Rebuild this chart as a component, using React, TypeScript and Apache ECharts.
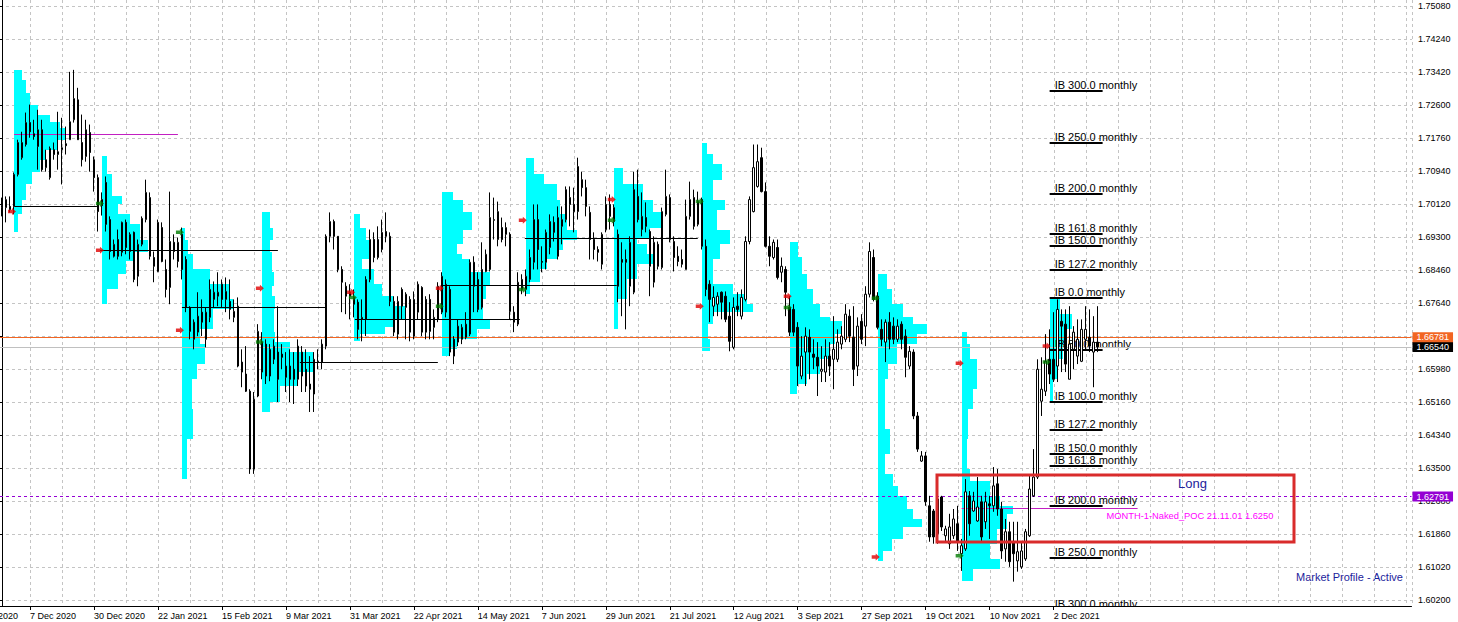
import React, { useEffect, useRef } from "react";
import * as echarts from "echarts";

// ---------------- axes / scale ----------------
const Y_TICK_LABELS = [
  "1.60200", "1.61020", "1.61860", "1.62680", "1.63500", "1.64340", "1.65160",
  "1.65980", "1.66800", "1.67640", "1.68460", "1.69300", "1.70120", "1.70940",
  "1.71760", "1.72600", "1.73420", "1.74240", "1.75080",
];
const Y_LABEL_MIN = 1.602;
const Y_LABEL_MAX = 1.7508;
const Y_VIEW_MIN = 1.6005;
const Y_VIEW_MAX = 1.7523;
const TOTAL_SLOTS = 353;
const LAST_BAR = 274;
const LABEL_FIRST = 7;
const LABEL_EVERY = 16;
const GRID_FIRST = 7;
const GRID_EVERY = 8;
const CLIPPED_X_LABEL = "13 Nov 2020";
const MONTH_NAMES = ["Jan", "Feb", "Mar", "Apr", "May", "Jun", "Jul", "Aug", "Sep", "Oct", "Nov", "Dec"];

// ---------------- daily candles [open, close, low, high] ----------------
const NOV_2020 = [
  [1.7008, 1.7003, 1.6981, 1.7028], [1.7003, 1.7023, 1.6966, 1.7031], [1.7006, 1.6998, 1.6991, 1.7031],
];
const DEC_2020 = [
  [1.7006, 1.7086, 1.6986, 1.7091], [1.7086, 1.7166, 1.7081, 1.7173], [1.7128, 1.7166, 1.7123, 1.7193],
  [1.7161, 1.7216, 1.7156, 1.7241], [1.7216, 1.7193, 1.7178, 1.7261], [1.7188, 1.7181, 1.7173, 1.7223],
  [1.7156, 1.7198, 1.7098, 1.7248], [1.7198, 1.7098, 1.7093, 1.7223], [1.7103, 1.7123, 1.7093, 1.7148],
  [1.7078, 1.7151, 1.7073, 1.7156], [1.7148, 1.7136, 1.7123, 1.7166], [1.7136, 1.7143, 1.7098, 1.7243],
  [1.7148, 1.7153, 1.7061, 1.7228], [1.7163, 1.7158, 1.7136, 1.7206], [1.7173, 1.7218, 1.7173, 1.7343],
  [1.7223, 1.7276, 1.7216, 1.7348], [1.7273, 1.7173, 1.7173, 1.7303], [1.7166, 1.7123, 1.7106, 1.7236],
  [1.7131, 1.7198, 1.7118, 1.7223], [1.7191, 1.7141, 1.7093, 1.7211], [1.7123, 1.7078, 1.7043, 1.7131],
  [1.7078, 1.6993, 1.6943, 1.7086],
];
const JAN_2021 = [
  [1.7023, 1.7008, 1.6983, 1.7041], [1.7066, 1.6961, 1.6943, 1.7081], [1.6973, 1.6893, 1.6873, 1.6981],
  [1.6881, 1.6911, 1.6878, 1.6923], [1.6923, 1.6881, 1.6873, 1.6948], [1.6891, 1.6966, 1.6881, 1.6968],
  [1.6966, 1.6903, 1.6886, 1.6973], [1.6893, 1.6936, 1.6873, 1.6941], [1.6941, 1.6823, 1.6816, 1.6943],
  [1.6831, 1.6911, 1.6806, 1.6923], [1.6911, 1.6976, 1.6906, 1.6981], [1.6973, 1.7041, 1.6966, 1.7073],
  [1.7028, 1.6881, 1.6873, 1.7041], [1.6878, 1.6856, 1.6816, 1.6893], [1.6843, 1.6966, 1.6841, 1.6973],
  [1.6953, 1.6868, 1.6866, 1.6966], [1.6848, 1.6798, 1.6778, 1.6873], [1.6803, 1.6918, 1.6761, 1.7043],
  [1.6916, 1.6893, 1.6873, 1.6936], [1.6868, 1.6916, 1.6853, 1.6928],
];
const FEB_2021 = [
  [1.6936, 1.6848, 1.6823, 1.6953], [1.6873, 1.6753, 1.6741, 1.6881], [1.6753, 1.6693, 1.6673, 1.6756],
  [1.6673, 1.6716, 1.6648, 1.6723], [1.6691, 1.6731, 1.6681, 1.6791], [1.6741, 1.6716, 1.6681, 1.6773],
  [1.6673, 1.6741, 1.6653, 1.6753], [1.6728, 1.6798, 1.6716, 1.6823], [1.6773, 1.6791, 1.6753, 1.6818],
  [1.6781, 1.6791, 1.6756, 1.6841], [1.6811, 1.6773, 1.6753, 1.6823], [1.6773, 1.6793, 1.6741, 1.6828],
  [1.6768, 1.6748, 1.6723, 1.6823], [1.6728, 1.6743, 1.6716, 1.6773], [1.6756, 1.6606, 1.6603, 1.6778],
  [1.6616, 1.6591, 1.6553, 1.6648], [1.6586, 1.6543, 1.6541, 1.6656], [1.6543, 1.6348, 1.6336, 1.6548],
  [1.6348, 1.6523, 1.6336, 1.6541], [1.6531, 1.6693, 1.6528, 1.6711],
];
const MAR_2021 = [
  [1.6666, 1.6591, 1.6573, 1.6691], [1.6661, 1.6581, 1.6561, 1.6673], [1.6581, 1.6648, 1.6568, 1.6661],
  [1.6623, 1.6656, 1.6611, 1.6673], [1.6641, 1.6573, 1.6516, 1.6756], [1.6636, 1.6628, 1.6598, 1.6661],
  [1.6606, 1.6578, 1.6541, 1.6641], [1.6606, 1.6573, 1.6516, 1.6648], [1.6598, 1.6573, 1.6511, 1.6641],
  [1.6573, 1.6656, 1.6556, 1.6673], [1.6641, 1.6581, 1.6541, 1.6656], [1.6598, 1.6556, 1.6541, 1.6648],
  [1.6561, 1.6548, 1.6491, 1.6631], [1.6536, 1.6623, 1.6491, 1.6641], [1.6616, 1.6618, 1.6598, 1.6648],
  [1.6616, 1.6661, 1.6598, 1.6673], [1.6656, 1.6931, 1.6648, 1.6936], [1.6931, 1.6968, 1.6916, 1.6991],
  [1.6968, 1.6931, 1.6898, 1.6973], [1.6931, 1.6848, 1.6841, 1.6931], [1.6848, 1.6816, 1.6741, 1.6856],
  [1.6806, 1.6781, 1.6736, 1.6816], [1.6781, 1.6791, 1.6723, 1.6811],
];
const APR_2021 = [
  [1.6778, 1.6761, 1.6728, 1.6798], [1.6766, 1.6698, 1.6673, 1.6773], [1.6723, 1.6728, 1.6668, 1.6773],
  [1.6723, 1.6823, 1.6681, 1.6831], [1.6823, 1.6923, 1.6816, 1.6948], [1.6923, 1.6878, 1.6866, 1.6941],
  [1.6878, 1.6923, 1.6873, 1.6956], [1.6898, 1.6941, 1.6891, 1.6973], [1.6943, 1.6931, 1.6916, 1.6991],
  [1.6931, 1.6768, 1.6756, 1.6941], [1.6768, 1.6691, 1.6681, 1.6781], [1.6686, 1.6768, 1.6673, 1.6781],
  [1.6798, 1.6756, 1.6723, 1.6803], [1.6753, 1.6786, 1.6673, 1.6791], [1.6773, 1.6691, 1.6668, 1.6781],
  [1.6681, 1.6773, 1.6673, 1.6793], [1.6741, 1.6811, 1.6723, 1.6818], [1.6803, 1.6691, 1.6681, 1.6806],
  [1.6773, 1.6691, 1.6673, 1.6781], [1.6773, 1.6693, 1.6673, 1.6786], [1.6703, 1.6728, 1.6673, 1.6748],
  [1.6723, 1.6806, 1.6716, 1.6816],
];
const MAY_2021 = [
  [1.6741, 1.6831, 1.6736, 1.6841], [1.6741, 1.6811, 1.6728, 1.6823], [1.6798, 1.6641, 1.6631, 1.6806],
  [1.6673, 1.6631, 1.6611, 1.6681], [1.6666, 1.6706, 1.6656, 1.6723], [1.6673, 1.6703, 1.6661, 1.6711],
  [1.6678, 1.6711, 1.6673, 1.6741], [1.6686, 1.6866, 1.6681, 1.6873], [1.6866, 1.6806, 1.6741, 1.6881],
  [1.6823, 1.6748, 1.6741, 1.6841], [1.6753, 1.6848, 1.6748, 1.6916], [1.6843, 1.6886, 1.6841, 1.6898],
  [1.6848, 1.6978, 1.6843, 1.7041], [1.6971, 1.6973, 1.6923, 1.7028], [1.6923, 1.6993, 1.6906, 1.7018],
  [1.6953, 1.6923, 1.6916, 1.6978], [1.6936, 1.6953, 1.6906, 1.6966], [1.6936, 1.6743, 1.6723, 1.6941],
  [1.6741, 1.6716, 1.6691, 1.6756], [1.6711, 1.6816, 1.6706, 1.6841], [1.6798, 1.6823, 1.6786, 1.6836],
];
const JUN_2021 = [
  [1.6798, 1.6831, 1.6781, 1.6848], [1.6823, 1.6878, 1.6816, 1.6898], [1.6866, 1.6973, 1.6848, 1.7011],
  [1.6973, 1.6898, 1.6848, 1.7011], [1.6868, 1.6866, 1.6841, 1.6906], [1.6866, 1.6941, 1.6848, 1.6948],
  [1.6903, 1.6968, 1.6886, 1.6986], [1.6966, 1.6941, 1.6918, 1.6981], [1.6881, 1.6978, 1.6873, 1.7006],
  [1.6956, 1.6973, 1.6911, 1.7006], [1.6973, 1.7048, 1.6966, 1.7056], [1.7028, 1.7011, 1.6956, 1.7056],
  [1.7011, 1.6993, 1.6941, 1.7053], [1.6993, 1.7106, 1.6973, 1.7128], [1.7073, 1.7053, 1.7031, 1.7093],
  [1.7053, 1.7006, 1.6981, 1.7073], [1.6991, 1.6923, 1.6873, 1.7006], [1.6923, 1.6898, 1.6873, 1.6941],
  [1.6898, 1.6891, 1.6868, 1.6906], [1.6861, 1.6936, 1.6848, 1.6941], [1.6948, 1.7011, 1.6941, 1.7031],
  [1.7011, 1.6981, 1.6948, 1.7036],
];
const JUL_2021 = [
  [1.6968, 1.7003, 1.6956, 1.7011], [1.6936, 1.6806, 1.6766, 1.6948], [1.6873, 1.6866, 1.6731, 1.6916],
  [1.6873, 1.6866, 1.6698, 1.6898], [1.6806, 1.6916, 1.6756, 1.6931], [1.6791, 1.7048, 1.6786, 1.7093],
  [1.7031, 1.6973, 1.6966, 1.7098], [1.6948, 1.6981, 1.6931, 1.7041], [1.6978, 1.6956, 1.6941, 1.7016],
  [1.6943, 1.6856, 1.6781, 1.6948], [1.6816, 1.6916, 1.6803, 1.6931], [1.6911, 1.6856, 1.6848, 1.6918],
  [1.6853, 1.6993, 1.6848, 1.7003], [1.6986, 1.7031, 1.6981, 1.7098], [1.7028, 1.6923, 1.6916, 1.7036],
  [1.6918, 1.6878, 1.6843, 1.6931], [1.6881, 1.6868, 1.6856, 1.6906], [1.6873, 1.6861, 1.6853, 1.6898],
  [1.6848, 1.6981, 1.6848, 1.7023], [1.6981, 1.7023, 1.6973, 1.7068], [1.7028, 1.6956, 1.6948, 1.7048],
  [1.6961, 1.7018, 1.6956, 1.7043],
];
const AUG_2021 = [
  [1.7023, 1.6906, 1.6898, 1.7028], [1.6906, 1.6798, 1.6781, 1.6923], [1.6811, 1.6773, 1.6716, 1.6821],
  [1.6756, 1.6778, 1.6731, 1.6806], [1.6761, 1.6781, 1.6731, 1.6791], [1.6791, 1.6766, 1.6723, 1.6793],
  [1.6781, 1.6723, 1.6716, 1.6793], [1.6731, 1.6668, 1.6643, 1.6766], [1.6653, 1.6753, 1.6648, 1.6778],
  [1.6756, 1.6748, 1.6731, 1.6791], [1.6731, 1.6778, 1.6723, 1.6798], [1.6773, 1.6918, 1.6768, 1.6931],
  [1.6918, 1.7023, 1.6911, 1.7031], [1.6993, 1.7103, 1.6991, 1.7161], [1.7056, 1.7118, 1.7053, 1.7161],
  [1.7128, 1.7043, 1.7041, 1.7153], [1.7043, 1.6906, 1.6903, 1.7066], [1.6906, 1.6881, 1.6856, 1.6931],
  [1.6878, 1.6916, 1.6873, 1.6923], [1.6903, 1.6828, 1.6823, 1.6923], [1.6841, 1.6856, 1.6816, 1.6878],
  [1.6848, 1.6791, 1.6731, 1.6856],
];
const SEP_2021 = [
  [1.6753, 1.6691, 1.6681, 1.6781], [1.6748, 1.6691, 1.6681, 1.6761], [1.6703, 1.6606, 1.6556, 1.6716],
  [1.6581, 1.6631, 1.6573, 1.6681], [1.6641, 1.6681, 1.6556, 1.6703], [1.6678, 1.6641, 1.6573, 1.6698],
  [1.6636, 1.6628, 1.6598, 1.6673], [1.6628, 1.6606, 1.6531, 1.6666], [1.6593, 1.6598, 1.6566, 1.6656],
  [1.6591, 1.6631, 1.6566, 1.6673], [1.6631, 1.6606, 1.6581, 1.6666], [1.6623, 1.6648, 1.6548, 1.6731],
  [1.6623, 1.6666, 1.6616, 1.6698], [1.6661, 1.6681, 1.6648, 1.6706], [1.6673, 1.6736, 1.6666, 1.6761],
  [1.6731, 1.6681, 1.6666, 1.6748], [1.6678, 1.6598, 1.6556, 1.6756], [1.6606, 1.6706, 1.6581, 1.6728],
  [1.6718, 1.6673, 1.6661, 1.6736], [1.6706, 1.6786, 1.6656, 1.6806], [1.6786, 1.6893, 1.6778, 1.6916],
  [1.6878, 1.6773, 1.6768, 1.6898],
];
const OCT_2021 = [
  [1.6781, 1.6703, 1.6698, 1.6791], [1.6698, 1.6673, 1.6656, 1.6723], [1.6666, 1.6716, 1.6616, 1.6723],
  [1.6716, 1.6673, 1.6648, 1.6741], [1.6706, 1.6673, 1.6661, 1.6728], [1.6673, 1.6706, 1.6666, 1.6723],
  [1.6711, 1.6673, 1.6648, 1.6718], [1.6681, 1.6628, 1.6578, 1.6698], [1.6606, 1.6643, 1.6598, 1.6656],
  [1.6641, 1.6481, 1.6473, 1.6648], [1.6481, 1.6398, 1.6391, 1.6491], [1.6368, 1.6381, 1.6366, 1.6393],
  [1.6381, 1.6266, 1.6256, 1.6391], [1.6256, 1.6178, 1.6166, 1.6281], [1.6243, 1.6178, 1.6161, 1.6248],
  [1.6186, 1.6273, 1.6161, 1.6286], [1.6278, 1.6203, 1.6193, 1.6281], [1.6181, 1.6198, 1.6168, 1.6206],
  [1.6161, 1.6203, 1.6148, 1.6236], [1.6181, 1.6223, 1.6173, 1.6248], [1.6211, 1.6166, 1.6143, 1.6256],
];
const NOV_2021 = [
  [1.6136, 1.6156, 1.6093, 1.6173], [1.6148, 1.6291, 1.6143, 1.6323], [1.6281, 1.6211, 1.6181, 1.6293],
  [1.6243, 1.6268, 1.6241, 1.6291], [1.6218, 1.6253, 1.6216, 1.6328], [1.6266, 1.6178, 1.6168, 1.6281],
  [1.6216, 1.6266, 1.6198, 1.6291], [1.6261, 1.6256, 1.6173, 1.6281], [1.6256, 1.6306, 1.6241, 1.6353],
  [1.6311, 1.6248, 1.6231, 1.6348], [1.6248, 1.6143, 1.6123, 1.6266], [1.6148, 1.6191, 1.6116, 1.6223],
  [1.6191, 1.6116, 1.6103, 1.6216], [1.6166, 1.6136, 1.6066, 1.6216], [1.6118, 1.6141, 1.6091, 1.6216],
  [1.6103, 1.6143, 1.6098, 1.6166], [1.6123, 1.6191, 1.6118, 1.6198], [1.6181, 1.6298, 1.6178, 1.6331],
  [1.6281, 1.6328, 1.6278, 1.6398], [1.6328, 1.6598, 1.6323, 1.6623], [1.6518, 1.6548, 1.6481, 1.6628],
  [1.6543, 1.6618, 1.6531, 1.6686],
];
const DEC_2021 = [
  [1.6623, 1.6586, 1.6561, 1.6698], [1.6623, 1.6573, 1.6566, 1.6741], [1.6606, 1.6748, 1.6566, 1.6773],
  [1.6718, 1.6706, 1.6591, 1.6748], [1.6711, 1.6611, 1.6591, 1.6748], [1.6573, 1.6661, 1.6573, 1.6756],
  [1.6648, 1.6691, 1.6598, 1.6706], [1.6631, 1.6673, 1.6611, 1.6723], [1.6618, 1.6698, 1.6616, 1.6723],
  [1.6673, 1.6698, 1.6648, 1.6756], [1.6678, 1.6656, 1.6641, 1.6748], [1.6641, 1.6666, 1.6553, 1.6731],
  [1.6666, 1.6654, 1.6641, 1.6756],
];

// ---------------- monthly market profiles [priceTop, priceBottom, TPO count] ----------------
const PROFILE_STARTS = [3, 25, 45, 65, 88, 110, 131, 153, 175, 197, 219, 240, 262];
const MP_DEC_2020 = [
  [1.7348, 1.7323, 2], [1.7323, 1.7291, 3], [1.7291, 1.7261, 4], [1.7261, 1.7236, 6], [1.7236, 1.7218, 9],
  [1.7218, 1.7203, 11.5], [1.7203, 1.7173, 13], [1.7173, 1.7148, 11], [1.7148, 1.7123, 8], [1.7123, 1.7093, 6.5],
  [1.7093, 1.7061, 4.5], [1.7061, 1.7023, 3], [1.7023, 1.6986, 2], [1.6986, 1.6943, 1],
];
const MP_JAN_2021 = [
  [1.7131, 1.7086, 1.3], [1.7086, 1.7031, 2.5], [1.7031, 1.7011, 5], [1.7011, 1.6986, 4], [1.6986, 1.6961, 7],
  [1.6961, 1.6923, 9.5], [1.6923, 1.6893, 11.5], [1.6893, 1.6868, 8], [1.6868, 1.6836, 6], [1.6836, 1.6798, 4],
  [1.6798, 1.6761, 1.3],
];
const MP_FEB_2021 = [
  [1.6953, 1.6923, 0.8], [1.6923, 1.6886, 1.5], [1.6886, 1.6848, 2.8], [1.6848, 1.6811, 7], [1.6811, 1.6773, 12],
  [1.6773, 1.6748, 12.8], [1.6748, 1.6698, 7.8], [1.6698, 1.6661, 4.5], [1.6661, 1.6611, 5.8], [1.6611, 1.6573, 3.8],
  [1.6573, 1.6498, 2.5], [1.6498, 1.6423, 2.8], [1.6423, 1.6323, 1.3],
];
const MP_MAR_2021 = [
  [1.6991, 1.6953, 2], [1.6953, 1.6923, 2.8], [1.6923, 1.6891, 2], [1.6891, 1.6841, 2.5], [1.6841, 1.6806, 3],
  [1.6806, 1.6781, 2.5], [1.6781, 1.6748, 3.3], [1.6748, 1.6691, 3], [1.6691, 1.6666, 3.3], [1.6666, 1.6641, 7],
  [1.6641, 1.6591, 12.8], [1.6591, 1.6556, 8.8], [1.6556, 1.6516, 4.5], [1.6516, 1.6491, 2],
];
const MP_APR_2021 = [
  [1.6986, 1.6953, 1.5], [1.6953, 1.6923, 3], [1.6923, 1.6873, 4], [1.6873, 1.6848, 2], [1.6848, 1.6811, 5],
  [1.6811, 1.6781, 7], [1.6781, 1.6756, 9.8], [1.6756, 1.6723, 12.8], [1.6723, 1.6703, 9.8], [1.6703, 1.6686, 7.8],
  [1.6686, 1.6668, 1.5],
];
const MP_MAY_2021 = [
  [1.7041, 1.7023, 2.8], [1.7023, 1.6991, 5.3], [1.6991, 1.6948, 7.5], [1.6948, 1.6911, 5.3], [1.6911, 1.6886, 3.8],
  [1.6886, 1.6873, 5], [1.6873, 1.6841, 7], [1.6841, 1.6806, 12], [1.6806, 1.6773, 11], [1.6773, 1.6723, 10.3],
  [1.6723, 1.6698, 12], [1.6698, 1.6673, 8.8], [1.6673, 1.6648, 3.8], [1.6648, 1.6631, 1.8],
];
const MP_JUN_2021 = [
  [1.7128, 1.7086, 2], [1.7086, 1.7061, 4.5], [1.7061, 1.7023, 7.8], [1.7023, 1.6986, 8.5], [1.6986, 1.6948, 10.3],
  [1.6948, 1.6923, 12.8], [1.6923, 1.6898, 9.3], [1.6898, 1.6873, 8], [1.6873, 1.6848, 5.3], [1.6848, 1.6816, 3.5],
  [1.6816, 1.6786, 1],
];
const MP_JUL_2021 = [
  [1.7103, 1.7061, 2.3], [1.7061, 1.7023, 7.3], [1.7023, 1.6991, 9.8], [1.6991, 1.6953, 12.3], [1.6953, 1.6928, 9],
  [1.6928, 1.6911, 5.8], [1.6911, 1.6886, 8.3], [1.6886, 1.6861, 9.8], [1.6861, 1.6823, 5.8], [1.6823, 1.6773, 3.3],
  [1.6773, 1.6698, 1],
];
const MP_AUG_2021 = [
  [1.7166, 1.7136, 1.3], [1.7136, 1.7111, 2.8], [1.7111, 1.7073, 5], [1.7073, 1.7023, 2.8], [1.7023, 1.6998, 5.8],
  [1.6998, 1.6948, 3.8], [1.6948, 1.6911, 7], [1.6911, 1.6873, 4.5], [1.6873, 1.6811, 2.8], [1.6811, 1.6786, 7.8],
  [1.6786, 1.6761, 11.3], [1.6761, 1.6741, 12.8], [1.6741, 1.6711, 2.8], [1.6711, 1.6673, 1.5], [1.6673, 1.6643, 2],
];
const MP_SEP_2021 = [
  [1.6916, 1.6878, 2], [1.6878, 1.6836, 3], [1.6836, 1.6798, 4.3], [1.6798, 1.6761, 5.8], [1.6761, 1.6728, 7.5],
  [1.6728, 1.6718, 10], [1.6718, 1.6686, 13], [1.6686, 1.6661, 11.3], [1.6661, 1.6623, 10], [1.6623, 1.6586, 7.5],
  [1.6586, 1.6561, 4.3], [1.6561, 1.6536, 1.8],
];
const MP_OCT_2021 = [
  [1.6836, 1.6798, 2.3], [1.6798, 1.6761, 3.5], [1.6761, 1.6728, 6.3], [1.6728, 1.6711, 8.8], [1.6711, 1.6686, 12.3],
  [1.6686, 1.6661, 9.8], [1.6661, 1.6611, 4.8], [1.6611, 1.6573, 2.5], [1.6573, 1.6448, 1.8], [1.6448, 1.6386, 3],
  [1.6386, 1.6336, 1.8], [1.6336, 1.6306, 3.8], [1.6306, 1.6281, 5], [1.6281, 1.6248, 7.3], [1.6248, 1.6223, 8.8],
  [1.6223, 1.6203, 11], [1.6203, 1.6173, 6.3], [1.6173, 1.6143, 3.5], [1.6143, 1.6118, 1.3],
];
const MP_NOV_2021 = [
  [1.6691, 1.6661, 1.3], [1.6661, 1.6623, 2], [1.6623, 1.6548, 3.8], [1.6548, 1.6498, 2.8], [1.6498, 1.6423, 1.5],
  [1.6423, 1.6348, 1.3], [1.6348, 1.6318, 2], [1.6318, 1.6281, 7], [1.6281, 1.6256, 9.5], [1.6256, 1.6236, 12.8],
  [1.6236, 1.6198, 11.3], [1.6198, 1.6161, 8.8], [1.6161, 1.6123, 7], [1.6123, 1.6098, 9.5], [1.6098, 1.6068, 2.8],
];
const MP_DEC_2021 = [
  [1.6773, 1.6736, 2.5], [1.6736, 1.6698, 5.5], [1.6698, 1.6661, 4.3], [1.6661, 1.6623, 3.3], [1.6623, 1.6573, 2],
  [1.6573, 1.6516, 0.8],
];

// ---------------- POC lines [fromBar, toBar, price] ----------------
const POC_LINES = [
  [3, 23.75, 1.7008], [24.5, 69, 1.6896], [45, 81.25, 1.6753], [74.5, 109, 1.6616],
  [88.25, 129.5, 1.6723], [110, 153.75, 1.6808], [130.75, 174, 1.6928],
];
const NAKED_POC_LINES = [[3, 44, 1.7188], [240, 284, 1.625]];
const NAKED_POC_LABEL = ["MONTH-1-Naked_POC 21.11.01 1.6250", 276.25, 1.625];

// ---------------- month markers [bar, price] ----------------
const RED_MARKS = [
  [2.5, 1.6993], [24.5, 1.6896], [44.5, 1.6696], [64.5, 1.6801], [87.3, 1.6791], [109.5, 1.6801],
  [130.25, 1.6971], [152.5, 1.7023], [174.5, 1.6756], [196.5, 1.6781], [218.5, 1.6128], [239.5, 1.6613],
  [261.25, 1.6656],
];
const GREEN_MARKS = [
  [24.5, 1.7013], [44.5, 1.6941], [64.5, 1.6666], [87.75, 1.6778], [109.5, 1.6756], [130.25, 1.6798],
  [152.5, 1.6971], [174.5, 1.7018], [196.5, 1.6753], [218.5, 1.6776], [239.5, 1.6131], [261.25, 1.6616],
];

// ---------------- initial balance levels ----------------
const IB_HIGH = 1.6776;
const IB_LOW = 1.6516;
const IB_UP = [300, 250, 200, 161.8, 150, 127.2];
const IB_DOWN = [0, 50, 100, 127.2, 150, 161.8, 200, 250, 300];
const IB_FROM = 262;
const IB_TO = 275.25;

// ---------------- price lines & zone ----------------
const ORANGE_LEVEL = 1.66781;
const BID_LEVEL = 1.6654;
const PURPLE_LEVEL = 1.62791;
const LONG_ZONE = [233.75, 323, 1.6333, 1.6165];
const LONG_LABEL = ["Long", 297.75, 1.6311];
const STATUS_TEXT = "Market Profile - Active";

const FONT = '"Liberation Sans", Arial, sans-serif';
const ARROW = "path://M0,2 L4,2 L4,0 L8,4 L4,8 L4,6 L0,6 Z";

function buildDates(): string[] {
  const out: string[] = [];
  let t = Date.UTC(2020, 10, 26);
  while (out.length < TOTAL_SLOTS) {
    const d = new Date(t);
    const wd = d.getUTCDay();
    const m = d.getUTCMonth();
    const dd = d.getUTCDate();
    const holiday = (m === 11 && dd === 25) || (m === 0 && dd === 1);
    if (wd !== 0 && wd !== 6 && !holiday) {
      out.push(`${dd} ${MONTH_NAMES[m]} ${d.getUTCFullYear()}`);
    }
    t += 86400000;
  }
  return out;
}

function buildOption(): any {
  const candles = [
    ...NOV_2020, ...DEC_2020, ...JAN_2021, ...FEB_2021, ...MAR_2021, ...APR_2021, ...MAY_2021,
    ...JUN_2021, ...JUL_2021, ...AUG_2021, ...SEP_2021, ...OCT_2021, ...NOV_2021, ...DEC_2021,
  ];
  const dates = buildDates();
  const profiles = [
    MP_DEC_2020, MP_JAN_2021, MP_FEB_2021, MP_MAR_2021, MP_APR_2021, MP_MAY_2021, MP_JUN_2021,
    MP_JUL_2021, MP_AUG_2021, MP_SEP_2021, MP_OCT_2021, MP_NOV_2021, MP_DEC_2021,
  ];
  const profileRows: number[][] = [];
  profiles.forEach((p, k) => p.forEach((r) => profileRows.push([PROFILE_STARTS[k], r[0], r[1], r[2]])));

  const ibRange = IB_HIGH - IB_LOW;
  const ibTexts: string[] = [];
  const ibRows: number[][] = [];
  IB_UP.forEach((p) => { ibTexts.push(`IB ${p.toFixed(1)} monthly`); ibRows.push([p, IB_LOW + (p / 100) * ibRange]); });
  IB_DOWN.forEach((p) => { ibTexts.push(`IB ${p.toFixed(1)} monthly`); ibRows.push([p, IB_HIGH - (p / 100) * ibRange]); });

  const yStep = (Y_LABEL_MAX - Y_LABEL_MIN) / (Y_TICK_LABELS.length - 1);
  const showLabel = (i: number) => i >= LABEL_FIRST && i <= LAST_BAR && (i - LABEL_FIRST) % LABEL_EVERY === 0;

  const segRender = (color: string, width: number) => (params: any, api: any) => {
    const a = api.coord([api.value(0), api.value(2)]);
    const b = api.coord([api.value(1), api.value(2)]);
    const y = Math.round(a[1]) + (width % 2 ? 0.5 : 0);
    return { type: "line", shape: { x1: a[0], y1: y, x2: b[0], y2: y }, style: { stroke: color, lineWidth: width } };
  };

  const priceLabel = (bg: string) => ({
    show: true, position: "end", distance: 1, backgroundColor: bg, color: "#ffffff",
    fontSize: 9, fontFamily: FONT, lineHeight: 10, padding: [0, 4, 0, 4],
  });

  return {
    animation: false,
    backgroundColor: "#ffffff",
    textStyle: { fontFamily: FONT },
    grid: [
      { left: -0.5, top: 0, width: 1412, height: 606 },
      { left: 0, top: 6, width: 1412, height: 594 },
      { left: 30, top: 0, width: 1382, height: 606 },
    ],
    xAxis: [
      {
        type: "category", gridIndex: 0, data: dates, boundaryGap: true,
        axisLine: { show: true, lineStyle: { color: "#000000", width: 1 } },
        axisTick: { show: true, alignWithLabel: true, length: 4, interval: (i: number) => showLabel(i), lineStyle: { color: "#000000" } },
        axisLabel: {
          show: true, interval: (i: number) => showLabel(i), align: "left", margin: 5, fontSize: 9,
          color: "#000000", formatter: (v: string, i: number) => (showLabel(i) ? v : ""),
        },
        splitLine: { show: false },
      },
      { type: "value", gridIndex: 0, min: -0.5, max: TOTAL_SLOTS - 0.5, show: false },
      { type: "value", gridIndex: 1, min: 0, max: 1, show: false },
      {
        type: "value", gridIndex: 2, min: GRID_FIRST, max: GRID_FIRST + 1382 / 4, interval: GRID_EVERY,
        axisLine: { show: false }, axisTick: { show: false }, axisLabel: { show: false },
        splitLine: { show: true, lineStyle: { color: "#c4c4c4", width: 1, type: [3, 3] } },
      },
    ],
    yAxis: [
      {
        type: "value", gridIndex: 0, min: Y_VIEW_MIN, max: Y_VIEW_MAX, position: "right",
        axisLine: { show: true, lineStyle: { color: "#000000", width: 1 } },
        axisTick: { show: false }, axisLabel: { show: false }, splitLine: { show: false },
      },
      {
        type: "value", gridIndex: 1, min: Y_LABEL_MIN, max: Y_LABEL_MAX, interval: yStep, position: "right",
        axisLine: { show: false },
        axisTick: { show: true, length: 3, lineStyle: { color: "#000000" } },
        axisLabel: {
          show: true, margin: 6, fontSize: 9, color: "#000000",
          formatter: (v: number) => Y_TICK_LABELS[Math.round((v - Y_LABEL_MIN) / yStep)] || "",
        },
        splitLine: { show: true, lineStyle: { color: "#c4c4c4", width: 1, type: [3, 3] } },
      },
      { type: "value", gridIndex: 2, min: 0, max: 1, show: false },
    ],
    graphic: [
      { type: "text", x: -33, y: 611, style: { text: CLIPPED_X_LABEL, fill: "#000000", font: `9px ${FONT}` } },
      { type: "text", left: 1296, top: 571, style: { text: STATUS_TEXT, fill: "#1c1c9c", font: `11px ${FONT}` } },
    ],
    series: [
      {
        name: "profiles", type: "custom", xAxisIndex: 1, yAxisIndex: 0, z: 1, clip: true, silent: true,
        data: profileRows,
        renderItem: (params: any, api: any) => {
          const a = api.coord([api.value(0), api.value(1)]);
          const b = api.coord([api.value(0) + api.value(3), api.value(2)]);
          const x = Math.round(a[0]);
          const y = Math.round(a[1]);
          return {
            type: "rect",
            shape: { x, y, width: Math.max(1, Math.round(b[0]) - x), height: Math.round(b[1]) - y },
            style: { fill: "#00ffff" },
          };
        },
      },
      {
        name: "poc", type: "custom", xAxisIndex: 1, yAxisIndex: 0, z: 2, clip: true, silent: true,
        data: POC_LINES, renderItem: segRender("#000000", 1),
      },
      {
        name: "nakedPoc", type: "custom", xAxisIndex: 1, yAxisIndex: 0, z: 2, clip: true, silent: true,
        data: NAKED_POC_LINES, renderItem: segRender("#c21fc2", 1),
      },
      {
        name: "ib", type: "custom", xAxisIndex: 1, yAxisIndex: 0, z: 3, clip: true, silent: true,
        data: ibRows,
        renderItem: (params: any, api: any) => {
          const a = api.coord([IB_FROM, api.value(1)]);
          const b = api.coord([IB_TO, api.value(1)]);
          const y = Math.round(a[1]);
          const cs = params.coordSys;
          return {
            type: "group",
            clipPath: { type: "rect", shape: { x: cs.x, y: cs.y, width: cs.width, height: cs.height } },
            children: [
              { type: "line", shape: { x1: a[0], y1: y, x2: b[0], y2: y }, style: { stroke: "#000000", lineWidth: 2 } },
              {
                type: "text", x: a[0] + 5, y: y - 6,
                style: { text: ibTexts[params.dataIndex], fill: "#000000", font: `11px ${FONT}`, align: "left", verticalAlign: "middle" },
              },
            ],
          };
        },
      },
      {
        name: "EURGBP", type: "candlestick", xAxisIndex: 0, yAxisIndex: 0, z: 5, barWidth: 2,
        data: candles,
        itemStyle: { color: "#ffffff", color0: "#000000", borderColor: "#000000", borderColor0: "#000000", borderWidth: 1 },
        markLine: {
          silent: true, symbol: ["none", "none"], animation: false, precision: 5,
          data: [
            { yAxis: BID_LEVEL, lineStyle: { color: "#c0c0c0", width: 1, type: "solid" }, label: { ...priceLabel("#000000"), formatter: BID_LEVEL.toFixed(5) } },
            { yAxis: ORANGE_LEVEL, lineStyle: { color: "#f26522", width: 1, type: "solid" }, label: { ...priceLabel("#f26522"), formatter: ORANGE_LEVEL.toFixed(5) } },
            { yAxis: PURPLE_LEVEL, lineStyle: { color: "#9400d3", width: 1, type: [3, 3] }, label: { ...priceLabel("#9400d3"), formatter: PURPLE_LEVEL.toFixed(5) } },
          ],
        },
      },
      {
        name: "redMarks", type: "scatter", xAxisIndex: 1, yAxisIndex: 0, z: 6, silent: true,
        symbol: ARROW, symbolSize: [8, 7], itemStyle: { color: "#e00000" }, data: RED_MARKS,
      },
      {
        name: "greenMarks", type: "scatter", xAxisIndex: 1, yAxisIndex: 0, z: 6, silent: true,
        symbol: ARROW, symbolSize: [8, 7], itemStyle: { color: "#007a00" }, data: GREEN_MARKS,
      },
      {
        name: "zone", type: "custom", xAxisIndex: 1, yAxisIndex: 0, z: 7, clip: false, silent: true,
        data: [LONG_ZONE],
        renderItem: (params: any, api: any) => {
          const a = api.coord([api.value(0), api.value(2)]);
          const b = api.coord([api.value(1), api.value(3)]);
          return {
            type: "rect",
            shape: { x: Math.round(a[0]), y: Math.round(a[1]), width: Math.round(b[0] - a[0]), height: Math.round(b[1] - a[1]) },
            style: { fill: "none", stroke: "#d92b2b", lineWidth: 3 },
          };
        },
      },
      {
        name: "labels", type: "custom", xAxisIndex: 1, yAxisIndex: 0, z: 8, clip: false, silent: true,
        data: [[LONG_LABEL[1], LONG_LABEL[2], 0], [NAKED_POC_LABEL[1], NAKED_POC_LABEL[2], 1]],
        renderItem: (params: any, api: any) => {
          const p = api.coord([api.value(0), api.value(1)]);
          if (api.value(2) === 0) {
            return {
              type: "text", x: p[0], y: p[1],
              style: { text: LONG_LABEL[0], fill: "#23239c", font: `13px ${FONT}`, align: "center", verticalAlign: "middle" },
            };
          }
          return {
            type: "text", x: p[0], y: p[1] + 8,
            style: { text: NAKED_POC_LABEL[0], fill: "#ff00ff", font: `9.3px ${FONT}`, align: "left", verticalAlign: "middle" },
          };
        },
      },
    ],
  };
}

export default function App() {
  const ref = useRef<HTMLDivElement>(null);
  useEffect(() => {
    document.body.style.margin = "0";
    const chart = echarts.init(ref.current as HTMLDivElement, null, { renderer: "svg" });
    chart.setOption(buildOption());
    return () => chart.dispose();
  }, []);
  return <div ref={ref} style={{ width: 1458, height: 622, overflow: "hidden" }} />;
}
